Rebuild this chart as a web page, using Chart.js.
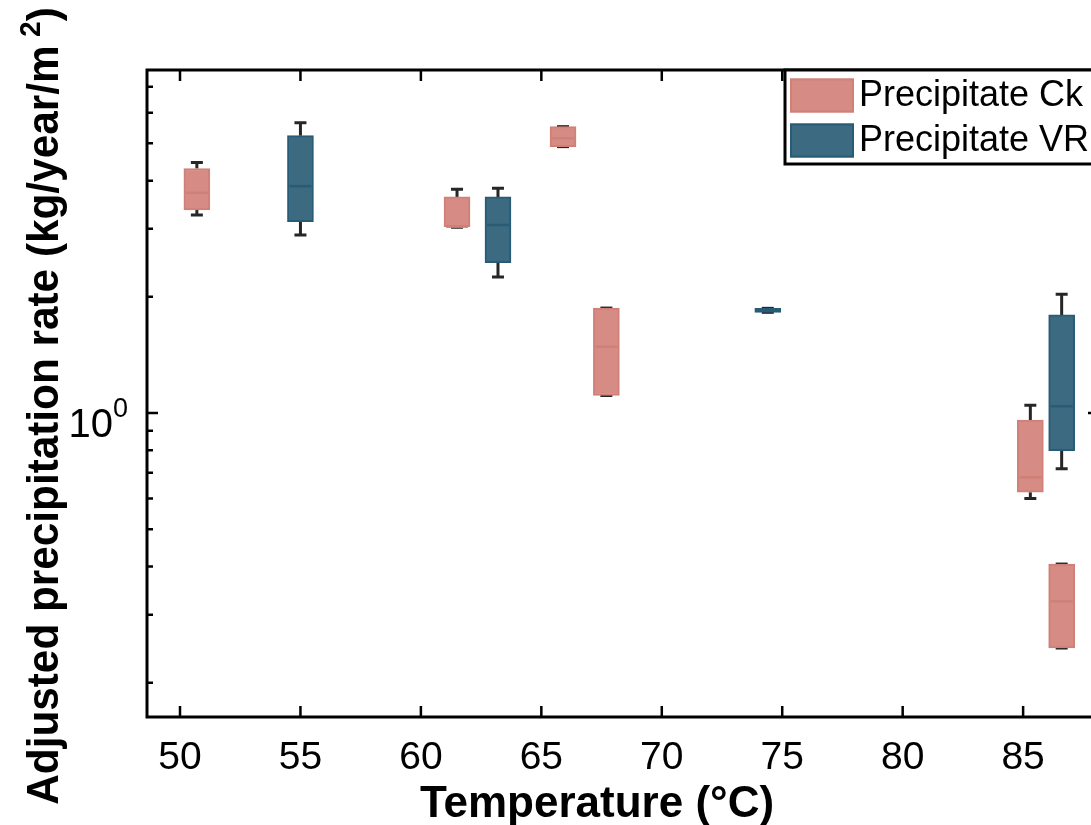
<!DOCTYPE html>
<html>
<head>
<meta charset="utf-8">
<script src="https://cdn.jsdelivr.net/npm/chart.js@4.4.1/dist/chart.umd.min.js"></script>
<style>
html, body { margin: 0; padding: 0; background: #fff; overflow: hidden; }
#wrap { width: 1110px; height: 825px; }
</style>
</head>
<body>
<div id="wrap"><canvas id="grafica" width="1110" height="825"></canvas></div>
<script>
// Precipitate Ck
const ckTemp = [50.7, 61.5, 65.9, 67.7, 85.3, 86.6];
const ckMin  = [3.26, 3.03, 4.90, 1.11, 0.600, 0.246];
const ckQ1   = [3.36, 3.04, 4.90, 1.11, 0.623, 0.246];
const ckMed  = [3.72, 3.04, 5.15, 1.485, 0.681, 0.325];
const ckQ3   = [4.30, 3.63, 5.52, 1.87, 0.959, 0.406];
const ckMax  = [4.46, 3.80, 5.52, 1.87, 1.047, 0.406];

// Precipitate VR
const vrTemp = [55.0, 63.2, 74.4, 86.6];
const vrMin  = [2.89, 2.25, 1.823, 0.717];
const vrQ1   = [3.13, 2.45, 1.823, 0.798];
const vrMed  = [3.87, 3.07, 1.845, 1.041];
const vrQ3   = [5.23, 3.63, 1.867, 1.795];
const vrMax  = [5.65, 3.82, 1.867, 2.03];

const xTicks = [50, 55, 60, 65, 70, 75, 80, 85];
const yMajorTicks = [1];
const yMinorTicks = [0.2, 0.3, 0.4, 0.5, 0.6, 0.7, 0.8, 0.9, 2, 3, 4, 5, 6, 7];

const series = [
    { label: 'Precipitate Ck', temp: ckTemp, min: ckMin, q1: ckQ1, med: ckMed, q3: ckQ3, max: ckMax,
      fill: '#d68c84', borde: '#cf8077' },
    { label: 'Precipitate VR', temp: vrTemp, min: vrMin, q1: vrQ1, med: vrMed, q3: vrQ3, max: vrMax,
      fill: '#3c6a80', borde: '#285c76' }
];

const ANCHO_CAJA = 26;

function dibujarBigotes(chart) {
    const ctx = chart.ctx, xs = chart.scales.x, ys = chart.scales.y;
    ctx.save();
    ctx.strokeStyle = '#262626';
    ctx.lineWidth = 3;
    series.forEach(s => {
        s.temp.forEach((t, i) => {
            const px = xs.getPixelForValue(t);
            const pares = [[s.q3[i], s.max[i]], [s.q1[i], s.min[i]]];
            pares.forEach(([desde, hasta]) => {
                const y0 = ys.getPixelForValue(desde), y1 = ys.getPixelForValue(hasta);
                ctx.beginPath();
                ctx.moveTo(px, y0); ctx.lineTo(px, y1);
                ctx.moveTo(px - 6, y1); ctx.lineTo(px + 6, y1);
                ctx.stroke();
            });
        });
    });
    ctx.restore();
}

function dibujarMedianas(chart) {
    const ctx = chart.ctx, xs = chart.scales.x, ys = chart.scales.y;
    ctx.save();
    ctx.lineWidth = 2.5;
    series.forEach(s => {
        ctx.strokeStyle = s.borde;
        s.temp.forEach((t, i) => {
            const px = xs.getPixelForValue(t), py = ys.getPixelForValue(s.med[i]);
            ctx.beginPath();
            ctx.moveTo(px - ANCHO_CAJA / 2 + 2, py); ctx.lineTo(px + ANCHO_CAJA / 2 - 2, py);
            ctx.stroke();
        });
    });
    ctx.restore();
}

function dibujarEjes(chart) {
    const ctx = chart.ctx, xs = chart.scales.x, ys = chart.scales.y, a = chart.chartArea;
    ctx.save();
    ctx.strokeStyle = '#000';
    ctx.lineWidth = 3;
    ctx.strokeRect(a.left, a.top, a.right - a.left, a.bottom - a.top);

    // ticks hacia dentro
    ctx.beginPath();
    xTicks.forEach(v => {
        const px = xs.getPixelForValue(v);
        ctx.moveTo(px, a.bottom); ctx.lineTo(px, a.bottom - 11);
        ctx.moveTo(px, a.top); ctx.lineTo(px, a.top + 11);
    });
    yMajorTicks.forEach(v => {
        const py = ys.getPixelForValue(v);
        ctx.moveTo(a.left, py); ctx.lineTo(a.left + 11, py);
        ctx.moveTo(a.right, py); ctx.lineTo(a.right - 11, py);
    });
    yMinorTicks.forEach(v => {
        const py = ys.getPixelForValue(v);
        ctx.moveTo(a.left, py); ctx.lineTo(a.left + 6, py);
        ctx.moveTo(a.right, py); ctx.lineTo(a.right - 6, py);
    });
    ctx.lineWidth = 2.5;
    ctx.stroke();

    // etiquetas
    ctx.fillStyle = '#000';
    ctx.font = '39px "Liberation Sans", Arial, sans-serif';
    ctx.textAlign = 'center';
    ctx.textBaseline = 'alphabetic';
    xTicks.forEach(v => {
        ctx.fillText(String(v), xs.getPixelForValue(v), a.bottom + 52);
    });
    yMajorTicks.forEach(v => {
        const py = ys.getPixelForValue(v);
        const exp = Math.round(Math.log10(v));
        ctx.font = '40px "Liberation Sans", Arial, sans-serif';
        ctx.textAlign = 'right';
        ctx.fillText('10', a.left - 34, py + 24);
        ctx.font = '27px "Liberation Sans", Arial, sans-serif';
        ctx.textAlign = 'left';
        ctx.fillText(String(exp), a.left - 34, py + 4);
    });

    // titulo x
    ctx.font = 'bold 44px "Liberation Sans", Arial, sans-serif';
    ctx.textAlign = 'center';
    ctx.fillText('Temperature (°C)', 597, 817);

    // titulo y con superindice
    ctx.translate(58, 406);
    ctx.rotate(-Math.PI / 2);
    ctx.scale(0.94, 1);
    const fBig = 'bold 45px "Liberation Sans", Arial, sans-serif';
    const fSup = 'bold 30px "Liberation Sans", Arial, sans-serif';
    const p1 = 'Adjusted precipitation rate (kg/year/m', p2 = '2', p3 = ')';
    ctx.font = fBig; const w1 = ctx.measureText(p1).width, w3 = ctx.measureText(p3).width;
    ctx.font = fSup; const w2 = ctx.measureText(p2).width;
    const gap = 9;
    let xx = -(w1 + gap + w2 + w3) / 2;
    ctx.textAlign = 'left';
    ctx.font = fBig; ctx.fillText(p1, xx, 0); xx += w1 + gap;
    ctx.font = fSup; ctx.fillText(p2, xx, -18); xx += w2;
    ctx.font = fBig; ctx.fillText(p3, xx, 0);
    ctx.restore();
}

function dibujarLeyenda(chart) {
    const ctx = chart.ctx, a = chart.chartArea;
    const x0 = 785, y0 = a.top, alto = 94;
    ctx.save();
    ctx.fillStyle = '#fff';
    ctx.fillRect(x0, y0, a.right - x0, alto);
    ctx.strokeStyle = '#000';
    ctx.lineWidth = 3;
    ctx.strokeRect(x0, y0, a.right - x0, alto);
    ctx.font = '36px "Liberation Sans", Arial, sans-serif';
    ctx.textBaseline = 'middle';
    ctx.textAlign = 'left';
    chart.data.datasets.forEach((ds, i) => {
        const cy = y0 + 25.5 + i * 45;
        ctx.fillStyle = ds.backgroundColor;
        ctx.fillRect(x0 + 5, cy - 17, 64, 34);
        ctx.strokeStyle = ds.borderColor;
        ctx.lineWidth = 2;
        ctx.strokeRect(x0 + 6, cy - 16, 62, 32);
        ctx.fillStyle = '#000';
        ctx.fillText(ds.label, x0 + 74, cy + 1);
    });
    ctx.restore();
}

const cajasPlugin = {
    id: 'cajas',
    beforeDatasetsDraw(chart) { dibujarBigotes(chart); },
    afterDatasetsDraw(chart) {
        dibujarMedianas(chart);
        dibujarEjes(chart);
        dibujarLeyenda(chart);
    }
};

const contexto = document.getElementById('grafica').getContext('2d');
new Chart(contexto, {
    type: 'bar',
    data: {
        datasets: series.map(s => ({
            label: s.label,
            data: s.temp.map((t, i) => ({ x: t, y: [s.q1[i], s.q3[i]] })),
            backgroundColor: s.fill,
            borderColor: s.borde,
            borderWidth: 2,
            borderSkipped: false,
            barThickness: ANCHO_CAJA,
            grouped: false
        }))
    },
    options: {
        responsive: false,
        animation: false,
        layout: { padding: { left: 147, right: 11, top: 70, bottom: 108 } },
        plugins: { legend: { display: false }, tooltip: { enabled: false } },
        scales: {
            x: { type: 'linear', min: 48.63, max: 88.15, offset: false, display: false },
            y: { type: 'logarithmic', min: 0.163, max: 7.74, display: false }
        }
    },
    plugins: [cajasPlugin]
});
</script>
</body>
</html>
